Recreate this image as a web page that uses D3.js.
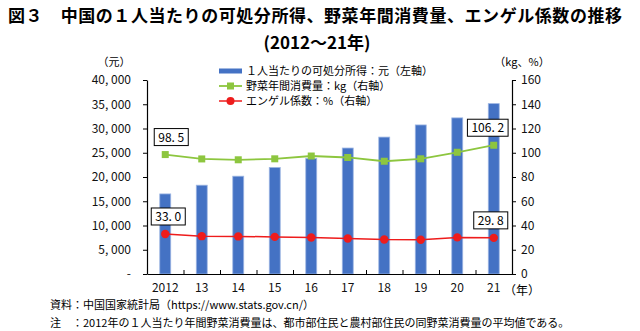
<!DOCTYPE html>
<html>
<head>
<meta charset="utf-8">
<script src="https://cdn.jsdelivr.net/npm/d3@7"></script>
<style>
  body { margin: 0; background: #fff; }
  text { font-family: "Noto Sans CJK JP", "Noto Sans", sans-serif; }
</style>
</head>
<body>
<div id="chart-area"></div>
<script>
// 年ごとのデータ（2012〜21年）
var years = ["2012", "13", "14", "15", "16", "17", "18", "19", "20", "21"];
var income = [16510, 18311, 20167, 21966, 23821, 25974, 28228, 30733, 32189, 35128];   // 元
var vegetable = [98.5, 94.9, 94.2, 95.0, 97.3, 96.1, 93.0, 95.0, 100.4, 106.2];       // kg
var engel = [33.0, 31.2, 31.0, 30.6, 30.1, 29.3, 28.4, 28.2, 30.2, 29.8];             // %

var leftTicks = [0, 5000, 10000, 15000, 20000, 25000, 30000, 35000, 40000];
var rightTicks = [0, 20, 40, 60, 80, 100, 120, 140, 160];
var legendLabels = ["１人当たりの可処分所得：元（左軸）", "野菜年間消費量：kg（右軸）", "エンゲル係数：%（右軸）"];

var width = 640, height = 331;
var plot = { left: 147, right: 512, top: 80, bottom: 274 };

var blue = "#4472c4", green = "#8dc63f", red = "#ee1c1c";

var svg = d3.select("#chart-area")
  .append("svg")
    .attr("width", width)
    .attr("height", height);

svg.append("rect").attr("width", width).attr("height", height).attr("fill", "#fff");

// タイトル
svg.append("text")
  .attr("x", 8).attr("y", 22)
  .attr("font-size", 17).attr("font-weight", "bold")
  .attr("textLength", 614).attr("lengthAdjust", "spacing")
  .text("図３　中国の１人当たりの可処分所得、野菜年間消費量、エンゲル係数の推移");
svg.append("text")
  .attr("x", 317).attr("y", 49)
  .attr("text-anchor", "middle")
  .attr("font-size", 17).attr("font-weight", "bold")
  .text("(2012～21年)");

// scales
var x = d3.scaleBand()
  .domain(years)
  .range([plot.left, plot.right])
  .paddingInner(0.7)
  .paddingOuter(0.35);

var xEdge = d3.scaleLinear()
  .domain([0, years.length])
  .range([plot.left, plot.right]);

var yLeft = d3.scaleLinear()
  .domain([0, 40000])
  .range([plot.bottom, plot.top]);

var yRight = d3.scaleLinear()
  .domain([0, 160])
  .range([plot.bottom, plot.top]);

function cx(d, i) { return x(years[i]) + x.bandwidth() / 2; }

// bars
svg.append("g").selectAll("rect")
  .data(income)
  .enter()
  .append("rect")
    .attr("x", function(d, i) { return x(years[i]); })
    .attr("y", function(d) { return yLeft(d); })
    .attr("width", x.bandwidth())
    .attr("height", function(d) { return plot.bottom - yLeft(d); })
    .attr("fill", blue)
    .attr("stroke", "#9db6e3")
    .attr("stroke-width", 0.8);

// axes
var fmtLeft = function(d) { return d === 0 ? "-" : d3.format(",")(d).replace(",", ", "); };

svg.append("g")
  .attr("transform", "translate(" + plot.left + ",0)")
  .call(d3.axisLeft(yLeft).tickValues(leftTicks).tickFormat(fmtLeft).tickSize(4).tickSizeOuter(0).tickPadding(12));

svg.append("g")
  .attr("transform", "translate(" + plot.right + ",0)")
  .call(d3.axisRight(yRight).tickValues(rightTicks).tickSize(4).tickSizeOuter(0).tickPadding(5));

svg.append("g")
  .attr("transform", "translate(0," + plot.bottom + ")")
  .call(d3.axisBottom(xEdge).tickValues(d3.range(1, years.length)).tickFormat("").tickSize(-4).tickSizeOuter(0));

svg.append("g")
  .attr("transform", "translate(0," + plot.bottom + ")")
  .call(d3.axisBottom(x).tickSize(0).tickPadding(9))
  .call(function(g) { g.select(".domain").remove(); });

svg.selectAll(".domain").attr("stroke", "#000").attr("stroke-width", 1.2);
svg.selectAll(".tick line").attr("stroke", "#000");
svg.selectAll(".tick text").attr("font-size", 12).attr("fill", "#111");

svg.append("text").attr("x", 504).attr("y", 295).attr("font-size", 12).text("（年）");
svg.append("text").attr("x", 114).attr("y", 66).attr("font-size", 11).attr("text-anchor", "middle").text("（元）");
svg.append("text").attr("x", 522).attr("y", 66).attr("font-size", 11).attr("text-anchor", "middle").text("（kg、%）");

// lines
var line = d3.line().x(cx).y(function(d) { return yRight(d); });

svg.append("path")
  .datum(vegetable)
  .attr("d", line)
  .attr("fill", "none")
  .attr("stroke", green)
  .attr("stroke-width", 1.8);

svg.append("g").selectAll("rect")
  .data(vegetable)
  .enter()
  .append("rect")
    .attr("x", function(d, i) { return cx(d, i) - 3.5; })
    .attr("y", function(d) { return yRight(d) - 3.5; })
    .attr("width", 7)
    .attr("height", 7)
    .attr("fill", green);

svg.append("path")
  .datum(engel)
  .attr("d", line)
  .attr("fill", "none")
  .attr("stroke", red)
  .attr("stroke-width", 1.5);

svg.append("g").selectAll("circle")
  .data(engel)
  .enter()
  .append("circle")
    .attr("cx", cx)
    .attr("cy", function(d) { return yRight(d); })
    .attr("r", 4.2)
    .attr("fill", red);

// value boxes for first and last year
function valueBox(series, i, dx) {
  var px = cx(null, i) + dx, py = yRight(series[i]) - 17;
  var label = series[i].toFixed(1).replace(".", ". ");
  var g = svg.append("g");
  var box = g.append("rect")
    .attr("fill", "#fff").attr("stroke", "#000").attr("stroke-width", 1);
  var t = g.append("text")
    .attr("x", px).attr("y", py + 4)
    .attr("text-anchor", "middle")
    .attr("font-size", 12)
    .text(label);
  var w = t.node().getComputedTextLength() + 8;
  box.attr("x", px - w / 2).attr("y", py - 9)
    .attr("width", w).attr("height", 17);
}
valueBox(vegetable, 0, 6);
valueBox(vegetable, years.length - 1, -6);
valueBox(engel, 0, 3);
valueBox(engel, years.length - 1, -3);

// legend
var legend = svg.append("g").attr("transform", "translate(219,0)");
var rowY = [71, 86, 101];

legend.append("rect").attr("x", 0).attr("y", rowY[0] - 2.5).attr("width", 23).attr("height", 5).attr("fill", blue);
legend.append("line").attr("x1", 0).attr("x2", 23).attr("y1", rowY[1]).attr("y2", rowY[1]).attr("stroke", green).attr("stroke-width", 1.8);
legend.append("rect").attr("x", 8).attr("y", rowY[1] - 3.5).attr("width", 7).attr("height", 7).attr("fill", green);
legend.append("line").attr("x1", 0).attr("x2", 23).attr("y1", rowY[2]).attr("y2", rowY[2]).attr("stroke", red).attr("stroke-width", 1.5);
legend.append("circle").attr("cx", 11.5).attr("cy", rowY[2]).attr("r", 4).attr("fill", red);

legend.selectAll("text.lg")
  .data(legendLabels)
  .enter()
  .append("text")
    .attr("class", "lg")
    .attr("x", 27)
    .attr("y", function(d, i) { return rowY[i] + 4; })
    .attr("font-size", 11)
    .text(function(d) { return d; });

// 出典・注
svg.append("text").attr("x", 50).attr("y", 309).attr("font-size", 11)
  .text("資料：中国国家統計局（https://www.stats.gov.cn/）");
svg.append("text").attr("x", 50).attr("y", 327).attr("font-size", 11)
  .text("注　：2012年の１人当たり年間野菜消費量は、都市部住民と農村部住民の同野菜消費量の平均値である。");
</script>
</body>
</html>
